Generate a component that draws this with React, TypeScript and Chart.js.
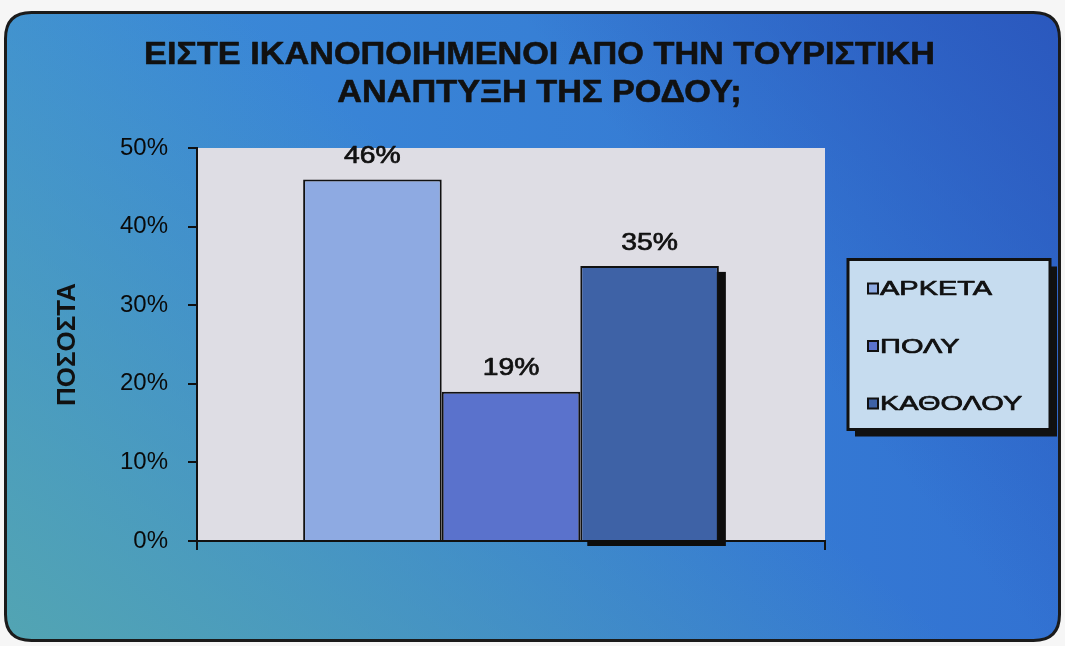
import React, { useEffect, useRef } from "react";
import { Chart, registerables } from "chart.js";

Chart.register(...registerables);

const TITLE_LINES = ["ΕΙΣΤΕ ΙΚΑΝΟΠΟΙΗΜΕΝΟΙ ΑΠΟ ΤΗΝ ΤΟΥΡΙΣΤΙΚΗ", "ΑΝΑΠΤΥΞΗ ΤΗΣ ΡΟΔΟΥ;"];
const CATEGORIES = [""];
const SERIES_LABELS = ["ΑΡΚΕΤΑ", "ΠΟΛΥ", "ΚΑΘΟΛΟΥ"];
const ARKETA = [46];
const POLY = [19];
const KATHOLOU = [35];
const Y_TICKS = [0, 10, 20, 30, 40, 50];
const Y_TITLE = "ΠΟΣΟΣΤΑ";
const COLORS = ["#8eaae2", "#5a72cc", "#3e62a6"];

const FONT = '"Liberation Sans", Arial, Helvetica, sans-serif';
const INK = "#111111";

function stretchedText(ctx: CanvasRenderingContext2D, text: string, x: number, y: number, sx: number, weight: number) {
  ctx.save();
  ctx.translate(x, y);
  ctx.scale(sx, 1);
  ctx.fillText(text, 0, 0);
  if (weight > 0) {
    ctx.lineWidth = weight;
    ctx.strokeStyle = ctx.fillStyle as string;
    ctx.lineJoin = "round";
    ctx.strokeText(text, 0, 0);
  }
  ctx.restore();
}

const backgroundPlugin = {
  id: "bgFrame",
  beforeDraw(chart: any) {
    const { ctx, width, height, chartArea } = chart;
    ctx.save();
    ctx.fillStyle = "#f6f6f6";
    ctx.fillRect(0, 0, width, height);
    const x = 5.5, y = 12.5, w = width - 11, h = height - 18, r = 26;
    ctx.beginPath();
    ctx.moveTo(x + r, y);
    ctx.lineTo(x + w - r, y);
    ctx.quadraticCurveTo(x + w, y, x + w, y + r);
    ctx.lineTo(x + w, y + h - r);
    ctx.quadraticCurveTo(x + w, y + h, x + w - r, y + h);
    ctx.lineTo(x + r, y + h);
    ctx.quadraticCurveTo(x, y + h, x, y + h - r);
    ctx.lineTo(x, y + r);
    ctx.quadraticCurveTo(x, y, x + r, y);
    ctx.closePath();
    const base = ctx.createLinearGradient(0, 0, width, 0);
    base.addColorStop(0, "#3c8dd8");
    base.addColorStop(1, "#3272d2");
    ctx.fillStyle = base;
    ctx.fill();
    const teal = ctx.createLinearGradient(0, height, 420, 170);
    teal.addColorStop(0, "rgba(84,166,176,0.95)");
    teal.addColorStop(1, "rgba(84,166,176,0)");
    ctx.fillStyle = teal;
    ctx.fill();
    const deep = ctx.createLinearGradient(width, 10, 740, 280);
    deep.addColorStop(0, "rgba(42,86,188,0.95)");
    deep.addColorStop(1, "rgba(42,86,188,0)");
    ctx.fillStyle = deep;
    ctx.fill();
    ctx.lineWidth = 3;
    ctx.strokeStyle = "#1b1b1b";
    ctx.stroke();
    ctx.fillStyle = "#dedde4";
    ctx.fillRect(chartArea.left, chartArea.top, chartArea.right - chartArea.left, chartArea.bottom - chartArea.top);
    ctx.restore();
  },
};

const titlePlugin = {
  id: "twoLineTitle",
  afterDraw(chart: any) {
    const { ctx, width } = chart;
    ctx.save();
    ctx.fillStyle = INK;
    ctx.font = `bold 32px ${FONT}`;
    ctx.textAlign = "center";
    ctx.textBaseline = "middle";
    TITLE_LINES.forEach((line, i) => {
      stretchedText(ctx, line, width / 2 + 7, 55 + i * 38, 1.07, 0.6);
    });
    ctx.restore();
  },
};

const shadowPlugin = {
  id: "lastBarShadow",
  beforeDatasetDraw(chart: any, args: any) {
    if (args.index !== chart.data.datasets.length - 1) return;
    const ctx = chart.ctx;
    ctx.save();
    ctx.fillStyle = "#0d0d0d";
    args.meta.data.forEach((bar: any) => {
      const p = bar.getProps(["x", "y", "base", "width"], true);
      const left = p.x - p.width / 2;
      ctx.fillRect(left + 7, p.y + 6, p.width, p.base - p.y);
    });
    ctx.restore();
  },
};

const valueLabelPlugin = {
  id: "valueLabels",
  afterDatasetsDraw(chart: any) {
    const { ctx } = chart;
    ctx.save();
    ctx.fillStyle = INK;
    ctx.font = `24px ${FONT}`;
    ctx.textAlign = "center";
    ctx.textBaseline = "middle";
    chart.data.datasets.forEach((ds: any, i: number) => {
      const meta = chart.getDatasetMeta(i);
      meta.data.forEach((bar: any, j: number) => {
        stretchedText(ctx, `${ds.data[j]}%`, bar.x, bar.y - 23, 1.18, 0.7);
      });
    });
    ctx.restore();
  },
};

const legendBoxPlugin = {
  id: "boxLegend",
  afterDraw(chart: any) {
    const { ctx, chartArea } = chart;
    const w = 202, h = 170;
    const x0 = chartArea.right + 23;
    const y0 = (chartArea.top + chartArea.bottom) / 2 - h / 2;
    ctx.save();
    ctx.fillStyle = "#111";
    ctx.fillRect(x0 + 7, y0 + 7, w, h);
    ctx.fillStyle = "#c6dcef";
    ctx.fillRect(x0, y0, w, h);
    ctx.lineWidth = 3;
    ctx.strokeStyle = "#111";
    ctx.strokeRect(x0, y0, w, h);
    ctx.font = `21px ${FONT}`;
    ctx.textBaseline = "middle";
    ctx.textAlign = "left";
    chart.data.datasets.forEach((ds: any, i: number) => {
      const cy = y0 + 29 + i * 57.5;
      ctx.fillStyle = ds.backgroundColor;
      ctx.fillRect(x0 + 20, cy - 5, 10, 10);
      ctx.lineWidth = 2;
      ctx.strokeStyle = "#111";
      ctx.strokeRect(x0 + 20, cy - 5, 10, 10);
      ctx.fillStyle = INK;
      stretchedText(ctx, ds.label, x0 + 32, cy + 1, 1.38, 0.7);
    });
    ctx.restore();
  },
};

export default function App() {
  const canvasRef = useRef<HTMLCanvasElement | null>(null);

  useEffect(() => {
    if (!canvasRef.current) return;
    const seriesData = [ARKETA, POLY, KATHOLOU];
    const chart = new Chart(canvasRef.current, {
      type: "bar",
      data: {
        labels: CATEGORIES,
        datasets: SERIES_LABELS.map((label, i) => ({
          label,
          data: seriesData[i],
          backgroundColor: COLORS[i],
          borderColor: "#111",
          borderWidth: 2,
          categoryPercentage: 0.662,
          barPercentage: 1,
        })),
      },
      options: {
        animation: false,
        responsive: true,
        maintainAspectRatio: false,
        layout: { padding: { top: 148, left: 40, right: 240, bottom: 96 } },
        plugins: {
          legend: { display: false },
          title: { display: false },
          tooltip: { enabled: false },
        },
        scales: {
          x: {
            z: 1,
            ticks: { display: false },
            grid: { drawOnChartArea: false, drawTicks: true, tickLength: 9, color: "#111", lineWidth: 2, offset: true },
            border: { display: true, color: "#111", width: 2 },
          },
          y: {
            min: 0,
            max: 50,
            afterBuildTicks: (s: any) => {
              s.ticks = Y_TICKS.map((v) => ({ value: v }));
            },
            ticks: {
              callback: (v: any) => `${v}%`,
              color: "#0a0a0a",
              font: { family: FONT, size: 24 },
              padding: 20,
            },
            grid: { drawOnChartArea: false, drawTicks: true, tickLength: 9, color: "#111", lineWidth: 2 },
            border: { display: true, color: "#111", width: 2 },
            title: {
              display: true,
              text: Y_TITLE,
              color: INK,
              font: { family: FONT, size: 26, weight: "bold" },
              padding: { top: 12, bottom: 0 },
            },
            afterFit: (s: any) => {
              s.width = 157;
            },
          },
        },
      },
      plugins: [backgroundPlugin, shadowPlugin, valueLabelPlugin, legendBoxPlugin, titlePlugin],
    } as any);
    return () => chart.destroy();
  }, []);

  return (
    <div style={{ position: "fixed", left: 0, top: 0, width: 1065, height: 646 }}>
      <canvas ref={canvasRef} />
    </div>
  );
}
